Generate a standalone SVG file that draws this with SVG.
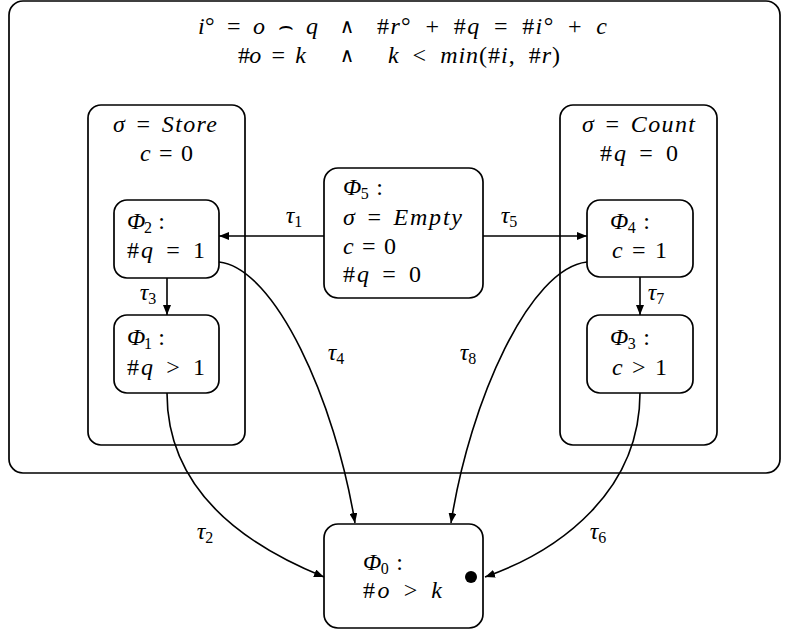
<svg xmlns="http://www.w3.org/2000/svg" width="789" height="635" viewBox="0 0 789 635">
  <style>
    text { font-family: "Liberation Serif", "DejaVu Serif", serif; font-size: 24px; fill: #000; word-spacing: 3px; }
    .i { font-style: italic; }
    .sub { font-size: 16px; font-style: normal; }
    .op { font-family: "DejaVu Serif", serif; font-size: 20px; }
    .wide { word-spacing: 6px; }
    .box { fill: #fff; stroke: #000; stroke-width: 1.7; }
    .frame { fill: none; stroke: #000; stroke-width: 1.7; }
    .edge { fill: none; stroke: #000; stroke-width: 1.6; marker-end: url(#arrow); }
    .mid { text-anchor: middle; }
  </style>
  <defs>
    <marker id="arrow" markerUnits="userSpaceOnUse" markerWidth="10" markerHeight="8" refX="10" refY="4" orient="auto">
      <path d="M0,0 L10,4 L0,8 Z" fill="#000"/>
    </marker>
  </defs>

  <rect width="789" height="635" fill="#fff"/>

  <!-- outer invariant frame with the two conjunction lines -->
  <g id="invariant">
    <rect class="frame" x="9" y="1" width="771" height="472" rx="14"/>
    <text class="wide" x="198" y="34" textLength="120" lengthAdjust="spacing"><tspan class="i">i</tspan>° = <tspan class="i">o</tspan> ⌢ <tspan class="i">q</tspan></text>
    <text class="op mid" x="347" y="33">∧</text>
    <text class="wide" x="377" y="34" textLength="230" lengthAdjust="spacing">#<tspan class="i">r</tspan>° + #<tspan class="i">q</tspan> = #<tspan class="i">i</tspan>° + <tspan class="i">c</tspan></text>
    <text class="wide" x="238" y="63" textLength="68" lengthAdjust="spacing">#<tspan class="i">o</tspan> = <tspan class="i">k</tspan></text>
    <text class="op mid" x="347" y="62">∧</text>
    <text class="wide" x="388" y="63" textLength="172" lengthAdjust="spacing"><tspan class="i">k</tspan> &lt; <tspan class="i">min</tspan>(#<tspan class="i">i</tspan>, #<tspan class="i">r</tspan>)</text>
  </g>

  <!-- Store region -->
  <g id="store">
    <rect class="frame" x="88" y="105" width="157" height="340" rx="13"/>
    <text class="mid" x="165" y="132" textLength="104" lengthAdjust="spacing"><tspan class="i">σ</tspan> = <tspan class="i">Store</tspan></text>
    <text class="mid" x="166.5" y="161" textLength="53" lengthAdjust="spacing"><tspan class="i">c</tspan> = 0</text>
  </g>

  <!-- Count region -->
  <g id="count">
    <rect class="frame" x="560" y="105" width="157" height="340" rx="13"/>
    <text class="mid" x="638.5" y="132" textLength="113" lengthAdjust="spacing"><tspan class="i">σ</tspan> = <tspan class="i">Count</tspan></text>
    <text class="mid" x="639" y="161" textLength="78" lengthAdjust="spacing">#<tspan class="i">q</tspan> = 0</text>
  </g>

  <!-- states -->
  <g id="phi2">
    <rect class="box" x="114" y="200" width="105" height="78" rx="13"/>
    <text x="127" y="229" textLength="38" lengthAdjust="spacing"><tspan class="i">Φ</tspan><tspan class="sub" dy="4">2</tspan><tspan dy="-4"> :</tspan></text>
    <text x="127" y="258" textLength="78" lengthAdjust="spacing">#<tspan class="i">q</tspan> = 1</text>
  </g>
  <g id="phi1">
    <rect class="box" x="114" y="315" width="105" height="78" rx="13"/>
    <text x="127" y="345" textLength="38" lengthAdjust="spacing"><tspan class="i">Φ</tspan><tspan class="sub" dy="4">1</tspan><tspan dy="-4"> :</tspan></text>
    <text x="127" y="375" textLength="78" lengthAdjust="spacing">#<tspan class="i">q</tspan> &gt; 1</text>
  </g>
  <g id="phi4">
    <rect class="box" x="587" y="200" width="106" height="77" rx="13"/>
    <text x="610" y="229" textLength="40" lengthAdjust="spacing"><tspan class="i">Φ</tspan><tspan class="sub" dy="4">4</tspan><tspan dy="-4"> :</tspan></text>
    <text x="612" y="258" textLength="55" lengthAdjust="spacing"><tspan class="i">c</tspan> = 1</text>
  </g>
  <g id="phi3">
    <rect class="box" x="587" y="315" width="106" height="78" rx="13"/>
    <text x="610" y="345" textLength="40" lengthAdjust="spacing"><tspan class="i">Φ</tspan><tspan class="sub" dy="4">3</tspan><tspan dy="-4"> :</tspan></text>
    <text x="612" y="375" textLength="55" lengthAdjust="spacing"><tspan class="i">c</tspan> &gt; 1</text>
  </g>
  <g id="phi5">
    <rect class="box" x="324" y="168" width="159" height="130" rx="14"/>
    <text x="343" y="195" textLength="40" lengthAdjust="spacing"><tspan class="i">Φ</tspan><tspan class="sub" dy="4">5</tspan><tspan dy="-4"> :</tspan></text>
    <text x="343" y="225" textLength="119" lengthAdjust="spacing"><tspan class="i">σ</tspan> = <tspan class="i">Empty</tspan></text>
    <text x="343" y="254" textLength="53" lengthAdjust="spacing"><tspan class="i">c</tspan> = 0</text>
    <text x="343" y="282" textLength="78" lengthAdjust="spacing">#<tspan class="i">q</tspan> = 0</text>
  </g>
  <g id="phi0">
    <rect class="box" x="324" y="524" width="159" height="104" rx="14"/>
    <text x="363" y="570" textLength="40" lengthAdjust="spacing"><tspan class="i">Φ</tspan><tspan class="sub" dy="4">0</tspan><tspan dy="-4"> :</tspan></text>
    <text x="363" y="598" textLength="79" lengthAdjust="spacing">#<tspan class="i">o</tspan> &gt; <tspan class="i">k</tspan></text>
    <circle cx="471" cy="577" r="6" fill="#000"/>
  </g>

  <!-- transitions -->
  <g id="connectors">
    <path class="edge" d="M324,236 L219,236"/>
    <path class="edge" d="M483,236 L587,236"/>
    <path class="edge" d="M167,278 L167,315"/>
    <path class="edge" d="M640,277 L640,315"/>
    <path class="edge" d="M219,262 C275,268 335,400 355,523"/>
    <path class="edge" d="M587,262 C530,268 470,400 451,523"/>
    <path class="edge" d="M167,393 C167,490 245,545 324,577"/>
    <path class="edge" d="M640,393 C640,490 562,550 485,577"/>
  </g>

  <!-- transition labels -->
  <g id="labels">
    <text class="mid" x="294" y="223"><tspan class="i">τ</tspan><tspan class="sub" dy="4">1</tspan></text>
    <text class="mid" x="509" y="223"><tspan class="i">τ</tspan><tspan class="sub" dy="4">5</tspan></text>
    <text class="mid" x="148" y="300"><tspan class="i">τ</tspan><tspan class="sub" dy="4">3</tspan></text>
    <text class="mid" x="656" y="300"><tspan class="i">τ</tspan><tspan class="sub" dy="4">7</tspan></text>
    <text class="mid" x="336" y="360"><tspan class="i">τ</tspan><tspan class="sub" dy="4">4</tspan></text>
    <text class="mid" x="468" y="360"><tspan class="i">τ</tspan><tspan class="sub" dy="4">8</tspan></text>
    <text class="mid" x="205" y="539"><tspan class="i">τ</tspan><tspan class="sub" dy="4">2</tspan></text>
    <text class="mid" x="598" y="539"><tspan class="i">τ</tspan><tspan class="sub" dy="4">6</tspan></text>
  </g>
</svg>
